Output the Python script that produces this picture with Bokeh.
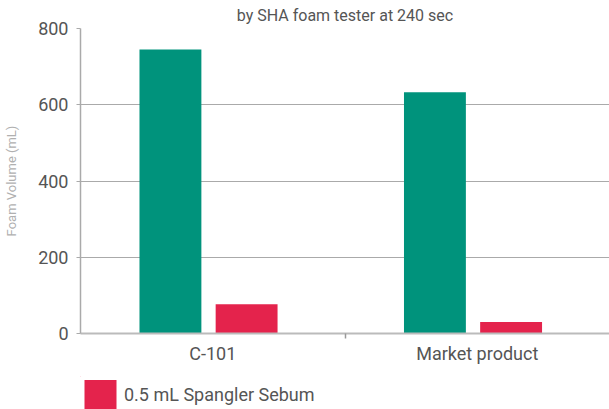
from bokeh.plotting import figure
from bokeh.layouts import column
from bokeh.models import FixedTicker, Legend, LegendItem, ColumnDataSource, Range1d
from bokeh.transform import dodge
from bokeh.embed import file_html
from bokeh.resources import INLINE

# ---- data ----
categories = ["C-101", "Market product"]
foam_no_sebum = [745, 633]      # green bars
foam_sebum = [77, 30]           # red bars (0.5 mL Spangler Sebum)
y_ticks = [0, 200, 400, 600, 800]
title_text = "by SHA foam tester at 240 sec"
y_label = "Foam Volume (mL)"
legend_label = "0.5 mL Spangler Sebum"

GREEN = "#00937C"
RED = "#E4234C"
FONT = "Roboto"
TEXT = "#555555"

x_centers = [i + 0.5 for i in range(len(categories))]
src = ColumnDataSource(dict(x=x_centers, green=foam_no_sebum, red=foam_sebum))

p = figure(width=609, height=372, x_range=(0, len(categories)), y_range=(0, 800),
           output_backend="svg", toolbar_location=None,
           min_border_left=80, min_border_right=0, min_border_top=26, min_border_bottom=39)
p.outline_line_color = None
p.background_fill_color = "white"

p.title.text = title_text
p.title.align = "center"
p.title.text_font_size = "16px"
p.title.text_font_style = "normal"
p.title.text_color = TEXT
p.title.text_font = FONT
p.title.standoff = 7

p.vbar(x=dodge('x', -0.16, range=p.x_range), top='green', width=0.234, source=src,
       fill_color=GREEN, line_color=None)
p.vbar(x=dodge('x', 0.128, range=p.x_range), top='red', width=0.234, source=src,
       fill_color=RED, line_color=None)

# y axis
p.yaxis.ticker = FixedTicker(ticks=y_ticks)
p.yaxis.axis_line_color = "#aaaaaa"
p.yaxis.axis_line_width = 1.5
p.yaxis.major_tick_out = 4
p.yaxis.major_tick_in = 0
p.yaxis.major_tick_line_color = "#aaaaaa"
p.yaxis.minor_tick_line_color = None
p.yaxis.major_label_text_font_size = "18px"
p.yaxis.major_label_text_color = TEXT
p.yaxis.major_label_text_font = FONT
p.yaxis.major_label_standoff = 8
p.yaxis.axis_label = y_label
p.yaxis.axis_label_text_font_size = "13px"
p.yaxis.axis_label_text_color = "#b0b0b0"
p.yaxis.axis_label_text_font_style = "normal"
p.yaxis.axis_label_text_font = FONT
p.yaxis.axis_label_standoff = 16

p.ygrid.ticker = FixedTicker(ticks=y_ticks)
p.ygrid.grid_line_color = "#aaaaaa"
p.ygrid.grid_line_width = 1
p.xgrid.grid_line_color = None

# x axis
p.xaxis.ticker = FixedTicker(ticks=x_centers, minor_ticks=[i for i in range(1, len(categories))])
p.xaxis.major_label_overrides = {c: lab for c, lab in zip(x_centers, categories)}
p.xaxis.major_tick_out = 0
p.xaxis.major_tick_in = 0
p.xaxis.major_tick_line_color = None
p.xaxis.minor_tick_out = 5
p.xaxis.minor_tick_in = 0
p.xaxis.minor_tick_line_color = "#999999"
p.xaxis.minor_tick_line_width = 1.5
p.xaxis.axis_line_color = "#bbbbbb"
p.xaxis.axis_line_width = 2
p.xaxis.major_label_standoff = 4
p.xaxis.major_label_text_font_size = "18px"
p.xaxis.major_label_text_color = TEXT
p.xaxis.major_label_text_font = FONT

# legend strip below the chart (the red series is referenced; its bars lie outside this strip's view)
lf = figure(width=609, height=37, x_range=Range1d(10, 11), y_range=Range1d(-2000, -1000),
            output_backend="svg", toolbar_location=None,
            x_axis_location=None, y_axis_location=None,
            min_border_left=80, min_border_right=0, min_border_top=4, min_border_bottom=0)
lf.outline_line_color = None
lf.xgrid.visible = False
lf.ygrid.visible = False
proxy = lf.vbar(x=dodge('x', 0.128, range=lf.x_range), top='red', width=0.234, source=src,
                fill_color=RED, line_color=None)

legend = Legend(items=[LegendItem(label=legend_label, renderers=[proxy])],
                location="top_left", glyph_width=40, glyph_height=36, label_standoff=4,
                padding=0, margin=0, border_line_color=None, background_fill_alpha=0,
                label_text_font_size="18px", label_text_color=TEXT, label_text_font=FONT,
                label_height=36)
lf.add_layout(legend)

layout = column(p, lf, spacing=0)
open("out.html", "w").write(file_html(layout, INLINE))
